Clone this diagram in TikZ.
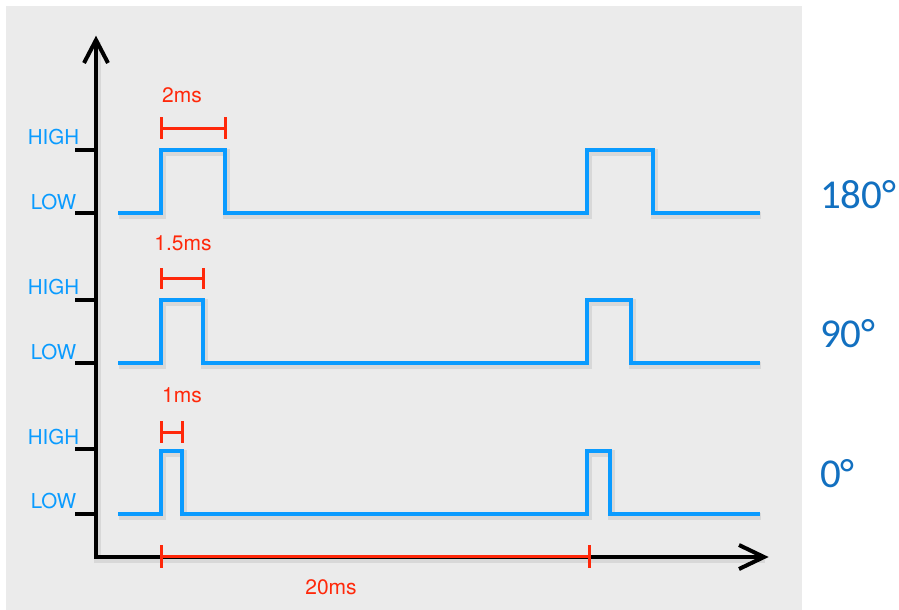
\documentclass[tikz,border=0pt]{standalone}
\usepackage{fontspec}
\setmainfont{TeX Gyre Heros}
\newfontfamily\calib{Carlito}
\begin{document}
\begin{tikzpicture}[x=1pt,y=-1pt,
  sig/.style={draw=sigblue,line width=4.5pt,line join=miter},
  shad/.style={draw=black,opacity=0.08,line width=7pt,shift={(1pt,-2pt)}},
  axisline/.style={draw=black,line width=4pt},
  tickline/.style={draw=black,line width=4pt},
  redline/.style={draw=redc,line width=3pt},
  lvl/.style={text=sigblue,font=\fontsize{20.5}{20.5}\selectfont,inner sep=0pt},
  mslab/.style={text=redc,font=\fontsize{21}{21}\selectfont,inner sep=0pt},
  ang/.style={text=angblue,font=\calib\fontsize{41}{41}\selectfont,inner sep=0pt,anchor=west}]
\definecolor{sigblue}{RGB}{10,155,255}
\definecolor{redc}{RGB}{255,40,10}
\definecolor{angblue}{RGB}{18,112,192}
\definecolor{bg}{RGB}{235,235,235}
\useasboundingbox (0,0) rectangle (899,610);
\fill[white] (0,0) rectangle (899,610);
\fill[bg] (6,6) rectangle (802,610);
% shadows
\draw[shad] (118,213) -- (161,213) -- (161,150) -- (225,150) -- (225,213) -- (587,213) -- (587,150) -- (653,150) -- (653,213) -- (760,213);
\draw[shad] (118,363) -- (161,363) -- (161,300) -- (203,300) -- (203,363) -- (587,363) -- (587,300) -- (631,300) -- (631,363) -- (760,363);
\draw[shad] (118,514) -- (161,514) -- (161,451) -- (182,451) -- (182,514) -- (587,514) -- (587,451) -- (610,451) -- (610,514) -- (760,514);
\draw[shad] (96,40) -- (96,557) -- (764,557);
% signals
\draw[sig] (118,213) -- (161,213) -- (161,150) -- (225,150) -- (225,213) -- (587,213) -- (587,150) -- (653,150) -- (653,213) -- (760,213);
\draw[sig] (118,363) -- (161,363) -- (161,300) -- (203,300) -- (203,363) -- (587,363) -- (587,300) -- (631,300) -- (631,363) -- (760,363);
\draw[sig] (118,514) -- (161,514) -- (161,451) -- (182,451) -- (182,514) -- (587,514) -- (587,451) -- (610,451) -- (610,514) -- (760,514);
% axes
\draw[axisline,line cap=butt] (96,40) -- (96,557) -- (764,557);
\draw[axisline,line join=miter] (84,63) -- (96,40) -- (108,63);
\draw[axisline,line join=miter] (739,545) -- (764,557) -- (739,569);
% ticks
\foreach \yy in {150,213,300,363,449,514} \draw[tickline] (75,\yy) -- (96,\yy);
% level labels
\node[lvl] (h1) at (53.5,137) {HIGH};
\node[lvl] (l1) at (53.5,202) {LOW};
\node[lvl] (h2) at (53.5,287) {HIGH};
\node[lvl] (l2) at (53.5,352) {LOW};
\node[lvl] (h3) at (53.5,437) {HIGH};
\node[lvl] (l3) at (53.5,501) {LOW};
% red brackets
\draw[redline] (161,128) -- (225,128);
\draw[redline] (161,117) -- (161,139);
\draw[redline] (225,117) -- (225,139);
\draw[redline] (161,278) -- (203,278);
\draw[redline] (161,268) -- (161,289);
\draw[redline] (203,268) -- (203,289);
\draw[redline] (161,432) -- (182,432);
\draw[redline] (161,421) -- (161,443);
\draw[redline] (182,421) -- (182,443);
\draw[redline] (161,556) -- (589,556);
\draw[redline] (161,545) -- (161,568);
\draw[redline] (589,545) -- (589,568);
\node[mslab] (m2) at (182,95) {2ms};
\node[mslab] (m15) at (183,243) {1.5ms};
\node[mslab] (m1) at (182,395) {1ms};
\node[mslab] (m20) at (331,587) {20ms};
% angle labels
\node[ang] (a180) at (820,195) {180°};
\node[ang] (a90) at (820,334) {90°};
\node[ang] (a0) at (820,474) {0°};
\end{tikzpicture}
\end{document}
